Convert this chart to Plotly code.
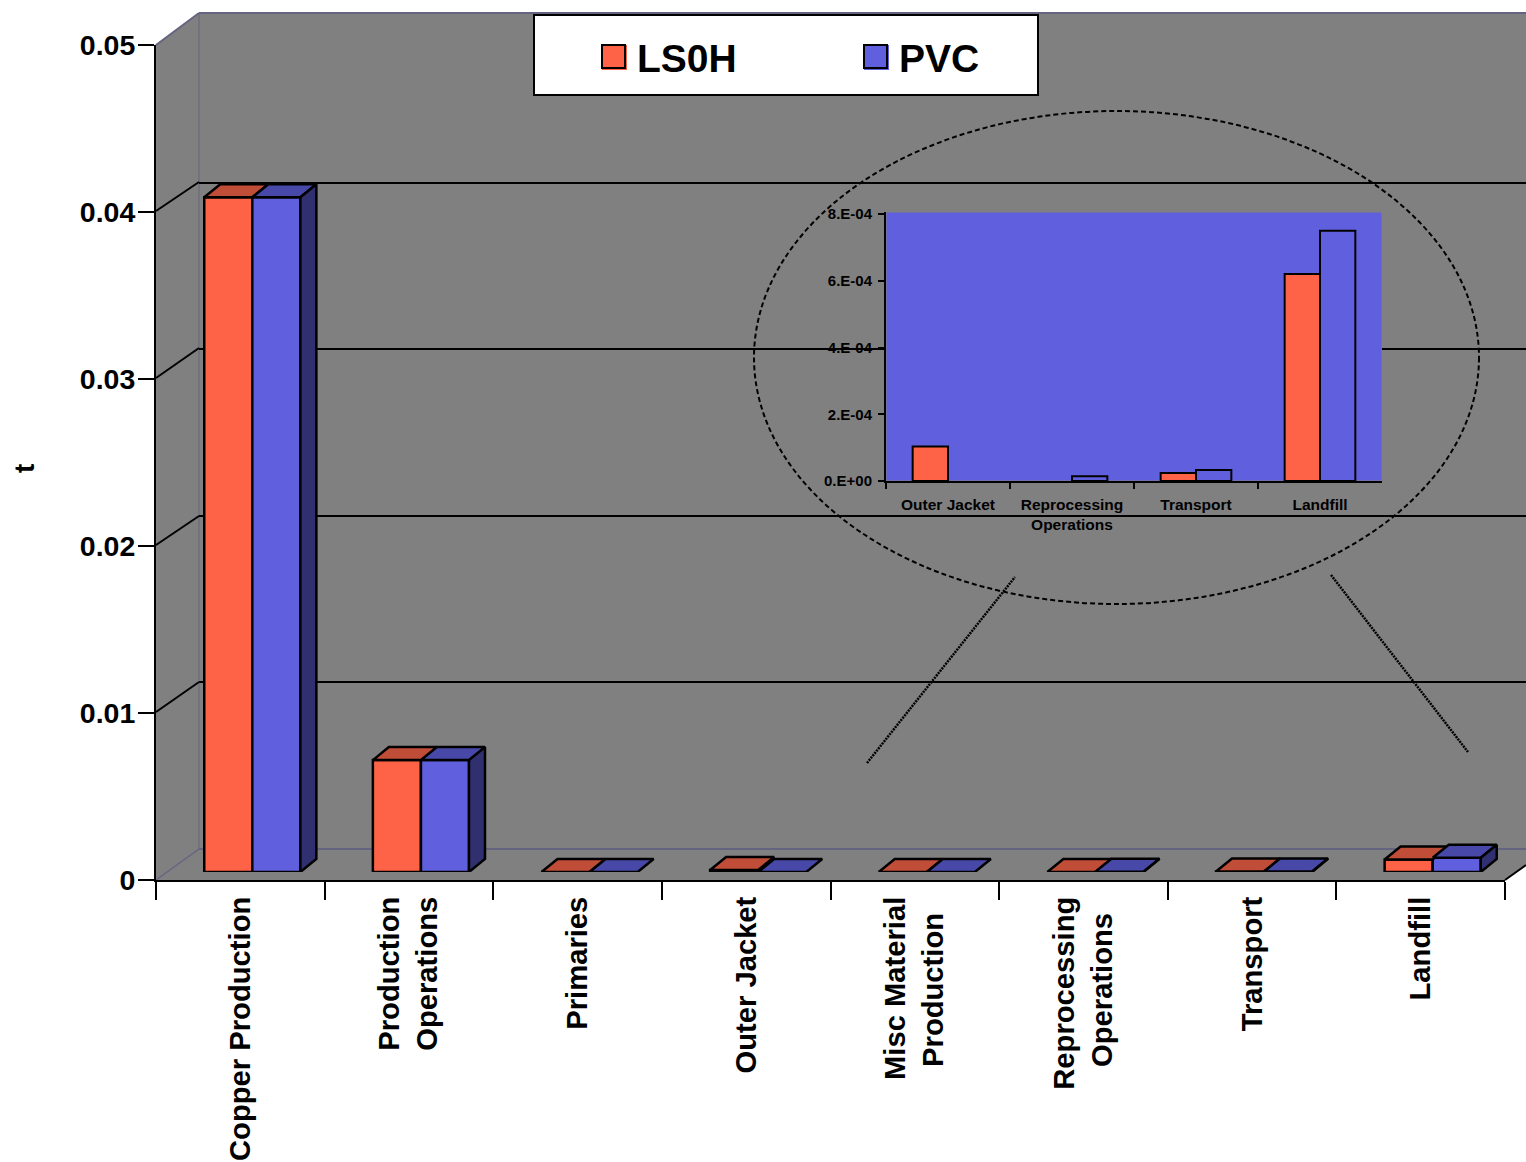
import plotly.graph_objects as go

# ---------- data ----------
categories = ["Copper Production", "Production<br>Operations", "Primaries", "Outer Jacket",
              "Misc Material<br>Production&nbsp;&nbsp;", "Reprocessing<br>Operations&nbsp;&nbsp;",
              "Transport", "Landfill"]
ls0h = [0.0404, 0.0067, 0.0, 0.00012, 0.0, 0.0, 0.00003, 0.00075]
pvc = [0.0404, 0.0067, 0.0, 0.0, 0.0, 0.00002, 0.00003, 0.00085]
y_ticks = [0, 0.01, 0.02, 0.03, 0.04, 0.05]
y_labels = ["0", "0.01", "0.02", "0.03", "0.04", "0.05"]
series_names = ["LS0H", "PVC"]
y_title = "t"

inset_categories = ["Outer Jacket", "Reprocessing<br>Operations", "Transport", "Landfill"]
inset_ls0h = [1.03e-4, None, 2.4e-5, 6.2e-4]
inset_pvc = [None, 1.4e-5, 3.3e-5, 7.5e-4]
inset_ticks = [0, 2e-4, 4e-4, 6e-4, 8e-4]
inset_labels = ["0.E+00", "2.E-04", "4.E-04", "6.E-04", "8.E-04"]

# ---------- styles ----------
W, H = 1526, 1162
RED, BLUE = "#FF6347", "#6060DF"
RED_TOP, BLUE_TOP = "#C04D38", "#4848A8"
BLUE_SIDE = "#303070"
GRAY, EDGE = "#808080", "#646480"
FONT = "Liberation Sans, Arial, sans-serif"


def px(x):
    return x / W


def py(y):
    return 1 - y / H


def dom_y(top, bottom):
    return [py(bottom), py(top)]


# pseudo-3D depth of a bar in axis units
GROUP = 0.57
BAR_W = GROUP / 2
DX = 16 / 168.6
DY = 13 / 16700
OUT = 2.5

fig = go.Figure()

# back wall with its gridlines (first subplot, so it lies under everything)
fig.add_trace(go.Scatter(x=[0], y=[0], xaxis="x", yaxis="y", mode="none",
                         showlegend=False, hoverinfo="skip"))
# main axes: ticks and labels
fig.add_trace(go.Scatter(x=categories, y=[0] * len(categories), xaxis="x2", yaxis="y2", mode="none",
                         showlegend=False, hoverinfo="skip"))

# bars, shifted to mid-depth via their own axes
idx = list(range(len(categories)))
for name, vals, col in zip(series_names, [ls0h, pvc], [RED, BLUE]):
    fig.add_trace(go.Bar(x=idx, y=vals, name=name, marker=dict(color=col, line=dict(color="black", width=OUT)),
                         xaxis="x3", yaxis="y3", cliponaxis=False, showlegend=False))


def polys(vals, corners):
    xs, ys = [], []
    for i, v in enumerate(vals):
        for cx, cy in corners:
            xs.append(i + cx)
            ys.append(v + cy)
        xs.append(i + corners[0][0])
        ys.append(v + corners[0][1])
        xs.append(None)
        ys.append(None)
    return xs, ys


faces = [
    (ls0h, [(-BAR_W, 0), (0, 0), (DX, DY), (-BAR_W + DX, DY)], RED_TOP),
    (pvc, [(0, 0), (BAR_W, 0), (BAR_W + DX, DY), (DX, DY)], BLUE_TOP),
]
for vals, corners, col in faces:
    xs, ys = polys(vals, corners)
    fig.add_trace(go.Scatter(x=xs, y=ys, xaxis="x3", yaxis="y3", mode="lines", fill="toself", fillcolor=col,
                             line=dict(color="black", width=OUT), showlegend=False, hoverinfo="skip", cliponaxis=False))
# right side of PVC bars
xs, ys = [], []
for i, v in enumerate(pvc):
    if v > 0:
        xs += [i + BAR_W, i + BAR_W + DX, i + BAR_W + DX, i + BAR_W, i + BAR_W, None]
        ys += [0, DY, v + DY, v, 0, None]
fig.add_trace(go.Scatter(x=xs, y=ys, xaxis="x3", yaxis="y3", mode="lines", fill="toself", fillcolor=BLUE_SIDE,
                         line=dict(color="black", width=OUT), showlegend=False, hoverinfo="skip", cliponaxis=False))

# inset
for name, vals, col in zip(series_names, [inset_ls0h, inset_pvc], [RED, BLUE]):
    fig.add_trace(go.Bar(x=inset_categories, y=vals, name=name + " (detail)",
                         marker=dict(color=col, line=dict(color="black", width=2)),
                         xaxis="x4", yaxis="y4", showlegend=False, cliponaxis=False))

shapes = []
# walls and floor
shapes.append(dict(type="path", xref="paper", yref="paper", layer="below", fillcolor=GRAY, line=dict(width=0),
                   path=f"M{px(156)},{py(45)} L{px(199)},{py(13)} L{px(1526)},{py(13)} L{px(1526)},{py(865)} "
                        f"L{px(1505)},{py(880)} L{px(156)},{py(880)} Z"))
for seg, w in [(((156, 45), (199, 13)), 2), (((199, 13), (1526, 13)), 2), (((199, 13), (199, 849)), 1),
               (((199, 849), (1526, 849)), 2), (((156, 880), (199, 849)), 1.5)]:
    (x0, y0), (x1, y1) = seg
    shapes.append(dict(type="line", xref="paper", yref="paper", layer="below", x0=px(x0), y0=py(y0), x1=px(x1), y1=py(y1),
                       line=dict(color=EDGE, width=w)))
for y0, y1 in [(211, 182), (378, 348), (545, 516), (712, 682)]:
    shapes.append(dict(type="line", xref="paper", yref="paper", layer="below", x0=px(156), y0=py(y0), x1=px(199), y1=py(y1),
                       line=dict(color="black", width=2)))
shapes.append(dict(type="line", xref="paper", yref="paper", layer="below", x0=px(1505), y0=py(880), x1=px(1526), y1=py(865),
                   line=dict(color="black", width=2)))
# inset background
shapes.append(dict(type="rect", xref="x4", yref="y4", layer="below", x0=-0.5, x1=3.5, y0=0, y1=8.06e-4,
                   fillcolor=BLUE, line=dict(color=GRAY, width=1)))
# ellipse and connectors
shapes.append(dict(type="circle", xref="paper", yref="paper", x0=px(754), x1=px(1479), y0=py(111), y1=py(604),
                   line=dict(color="black", width=2, dash="5px,3px")))
shapes.append(dict(type="line", xref="paper", yref="paper", x0=px(867), y0=py(763), x1=px(1015), y1=py(577),
                   line=dict(color="black", width=2.5, dash="2px,1px")))
shapes.append(dict(type="line", xref="paper", yref="paper", x0=px(1331), y0=py(575), x1=px(1468), y1=py(752),
                   line=dict(color="black", width=2.5, dash="2px,1px")))
# legend box
shapes.append(dict(type="rect", xref="paper", yref="paper", x0=px(534), x1=px(1038), y0=py(15), y1=py(95),
                   fillcolor="white", line=dict(color="black", width=2)))
annotations = []
for name, col, sx, tx in zip(series_names, [RED, BLUE], [602, 864], [637, 899]):
    shapes.append(dict(type="rect", xref="paper", yref="paper", x0=px(sx), x1=px(sx + 25), y0=py(45), y1=py(70),
                       fillcolor=col, line=dict(width=0)))
    shapes.append(dict(type="rect", xref="paper", yref="paper", x0=px(sx), x1=px(sx + 23), y0=py(45), y1=py(68),
                       line=dict(color="black", width=2)))
    annotations.append(dict(xref="paper", yref="paper", x=px(tx), y=py(59), xanchor="left", yanchor="middle",
                            text=f"<b>{name}</b>", showarrow=False, font=dict(family=FONT, size=39, color="black"),
                            xshift=-2))
annotations.append(dict(xref="paper", yref="paper", x=px(24), y=py(468), xanchor="center", yanchor="middle",
                        text=f"<b>{y_title}</b>", textangle=-90, showarrow=False,
                        font=dict(family=FONT, size=28, color="black")))

fig.update_layout(
    width=W, height=H, margin=dict(l=0, r=0, t=0, b=0),
    paper_bgcolor="white", plot_bgcolor="rgba(0,0,0,0)",
    barmode="group", bargap=0.43, bargroupgap=0,
    font=dict(family=FONT, color="black"),
    showlegend=False, shapes=shapes, annotations=annotations,
    xaxis=dict(domain=[px(199), 1], range=[0, 1], visible=False, anchor="y", showgrid=False, automargin=False),
    yaxis=dict(domain=dom_y(16, 849), range=[0, 0.05], tickvals=y_ticks[1:-1], showgrid=True, gridcolor="black",
               gridwidth=2, showticklabels=False, ticks="", showline=False, zeroline=False, anchor="x", automargin=False),
    xaxis2=dict(domain=[px(156), px(1505)], type="category", categoryorder="array", categoryarray=categories,
                range=[-0.5, 7.5], tickson="boundaries", ticks="outside", ticklen=18, tickwidth=2, tickcolor="black",
                tickangle=-90, tickfont=dict(family=FONT, size=29.2, weight="bold"), automargin=False,
                ticklabelstandoff=3,
                showline=True, linecolor="black", linewidth=2, showgrid=False, zeroline=False, anchor="y2"),
    yaxis2=dict(domain=dom_y(45, 880), range=[0, 0.05], tickvals=y_ticks, ticktext=y_labels,
                ticks="outside", ticklen=16, tickwidth=2, tickcolor="black", automargin=False,
                tickfont=dict(family=FONT, size=28.5, weight="bold"), ticklabelstandoff=-3,
                showline=True, linecolor="black", linewidth=2, showgrid=False, zeroline=False, anchor="x2"),
    xaxis3=dict(domain=[px(168), px(1517)], range=[-0.5, 7.5], type="linear", visible=False, anchor="y3", automargin=False),
    yaxis3=dict(domain=dom_y(37, 872), range=[0, 0.05], visible=False, anchor="x3", automargin=False),
    xaxis4=dict(domain=[px(886), px(1382)], type="category", tickson="boundaries", ticks="outside", ticklen=6,
                range=[-0.5, 3.5], tickwidth=2, tickcolor="black", tickangle=0, automargin=False,
                tickfont=dict(family=FONT, size=15.5, weight="bold"), ticklabelstandoff=8,
                showline=True, linecolor="black", linewidth=2, showgrid=False, zeroline=False, anchor="y4"),
    yaxis4=dict(domain=dom_y(212, 481), range=[0, 8.06e-4], tickvals=inset_ticks, ticktext=inset_labels,
                ticks="outside", ticklen=6, tickwidth=2, tickcolor="black", automargin=False,
                tickfont=dict(family=FONT, size=15, weight="bold"), ticklabelstandoff=3,
                showline=True, linecolor="black", linewidth=2, showgrid=False, zeroline=False, anchor="x4"),
)

fig.write_html("out.html", config=dict(displayModeBar=False), post_script="document.body.style.margin='0';")
